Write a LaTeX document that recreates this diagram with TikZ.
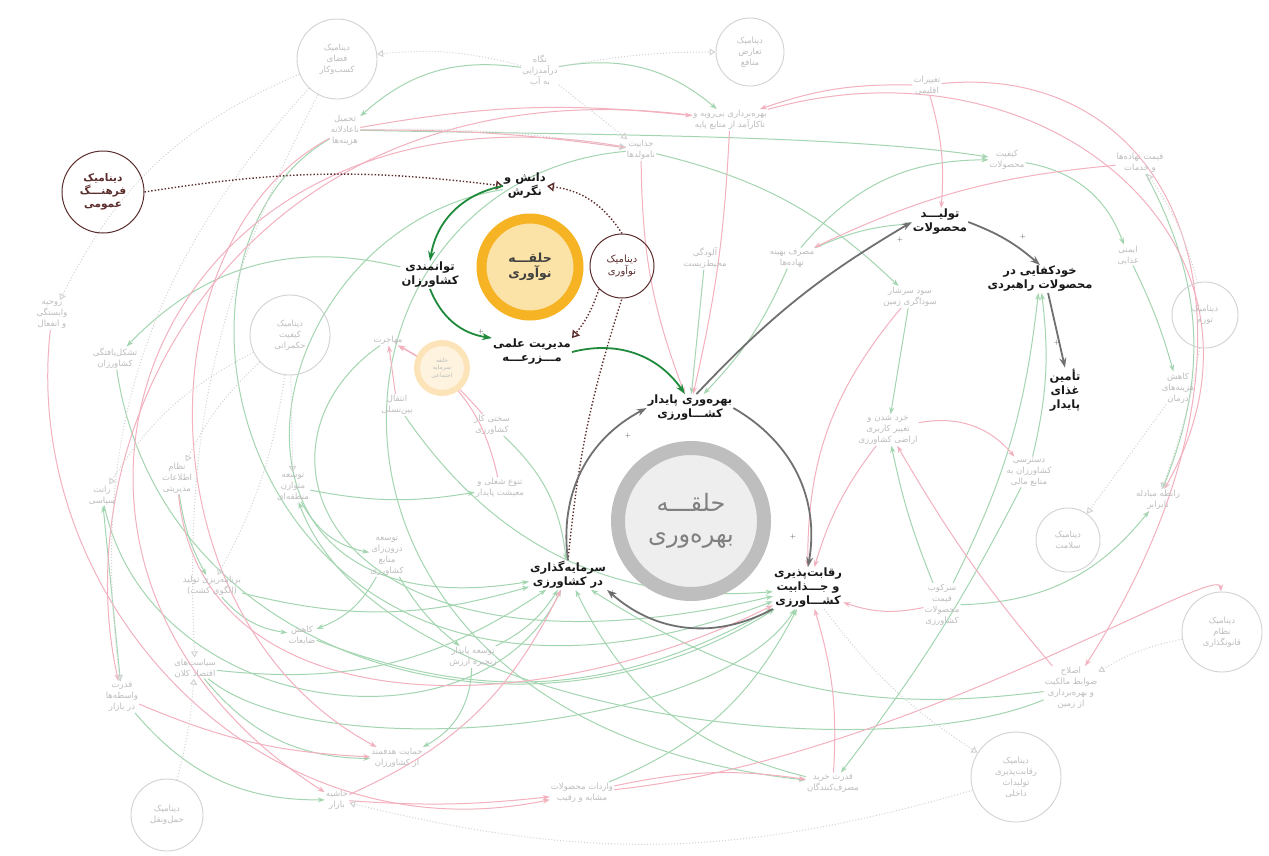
\documentclass[tikz,border=0pt]{standalone}
\usepackage{fontspec}
\usetikzlibrary{arrows.meta,backgrounds}
\newfontfamily\farsi[Script=Arabic]{DejaVu Sans}
\TeXXeTstate=1
\newcommand{\fa}[1]{\beginR#1\endR}

\definecolor{darkgreen}{HTML}{1F8A3B}
\definecolor{arrowgray}{HTML}{707070}
\definecolor{ringorange}{HTML}{F6B324}
\definecolor{ringfill}{HTML}{FBE2A6}
\definecolor{ringgray}{HTML}{BEBEBE}
\definecolor{ringgrayfill}{HTML}{EEEEEE}
\definecolor{maroon}{HTML}{5B2C2C}
\definecolor{fadetext}{HTML}{BDBDBD}
\definecolor{fadeline}{HTML}{D2D2D2}
\definecolor{fadegreen}{HTML}{A3D6B0}
\definecolor{fadepink}{HTML}{F3B0BE}
\definecolor{fadering}{HTML}{FCE3B8}
\definecolor{faderingfill}{HTML}{FEF3DF}

\tikzset{
  mainlbl/.style={font=\farsi\bfseries\fontsize{11.5}{14}\selectfont, align=center, inner sep=1pt, text=black!90},
  fadelbl/.style={font=\farsi\fontsize{8.5}{11}\selectfont, align=center, inner sep=1pt, text=fadetext},
  dyncirc/.style={circle, draw=maroon, line width=1pt, align=center, inner sep=0pt, text=maroon},
  fadecirc/.style={circle, draw=fadeline, line width=.9pt, fadelbl, inner sep=0pt},
  grnarrow/.style={draw=darkgreen, line width=1.8pt, -{Stealth[length=10pt,width=7pt]}},
  gryarrow/.style={draw=arrowgray, line width=1.8pt, -{Stealth[length=10pt,width=7pt]}},
  dynlink/.style={draw=maroon, dotted, line width=1.4pt, -{Triangle[open,length=7pt,width=9pt]}},
  dynplain/.style={draw=maroon, dotted, line width=1.4pt},
  fg/.style={draw=fadegreen, line width=1pt, -{Stealth[length=7pt,width=5pt]}},
  fp/.style={draw=fadepink, line width=1pt, -{Stealth[length=7pt,width=5pt]}},
  fd/.style={draw=fadeline, dotted, line width=1pt, -{Triangle[open,length=6pt,width=7pt]}},
  sgn/.style={font=\fontsize{7}{7}\selectfont, text=black!70, inner sep=0pt}
}

\begin{document}
\begin{tikzpicture}[x=1pt,y=-1pt]
  \useasboundingbox (0,0) rectangle (1269,855);

  \node[dyncirc, minimum size=82pt, font=\farsi\bfseries\fontsize{10.5}{13}\selectfont] (cult) at (103,192) {\fa{دینامیک}\\\fa{فرهنـــگ}\\\fa{عمومی}};
  \node[mainlbl] (know) at (525,186) {\fa{دانش و}\\\fa{نگرش}};
  \node[circle, draw=ringorange, line width=10pt, fill=ringfill, minimum size=97pt, align=center,
        font=\farsi\bfseries\fontsize{12.5}{15}\selectfont, text=black!75] (innovring) at (530,267) {\fa{حلقـــه}\\\fa{نوآوری}};
  \node[dyncirc, minimum size=64pt, font=\farsi\fontsize{10}{12.5}\selectfont] (dyninn) at (622,266) {\fa{دینامیک}\\\fa{نوآوری}};
  \node[mainlbl] (empow) at (430,275) {\fa{توانمندی}\\\fa{کشاورزان}};
  \node[mainlbl] (mgmt) at (532,352) {\fa{مدیریت علمی}\\\fa{مـــزرعـــه}};
  \node[mainlbl] (prod) at (690,408) {\fa{بهره‌وری پایدار}\\\fa{کشـــاورزی}};
  \node[circle, draw=ringgray, line width=14pt, fill=ringgrayfill, minimum size=146pt, align=center,
        font=\farsi\fontsize{24}{31}\selectfont, text=black!50] (prodring) at (691,521) {\fa{حلقـــه}\\\fa{بهره‌وری}};
  \node[mainlbl] (invest) at (568,575) {\fa{سرمایه‌گذاری}\\\fa{در کشاورزی}};
  \node[mainlbl] (compet) at (808,588) {\fa{رقابت‌پذیری}\\\fa{و جـــذابیت}\\\fa{کشـــاورزی}};
  \node[mainlbl] (output) at (940,222) {\fa{تولیـــد}\\\fa{محصولات}};
  \node[mainlbl] (selfs) at (1040,279) {\fa{خودکفایی در}\\\fa{محصولات راهبردی}};
  \node[mainlbl] (food) at (1065,390) {\fa{تأمین}\\\fa{غذای}\\\fa{پایدار}};

  \node[fadecirc, minimum size=80pt] (bizdyn) at (337,59) {\fa{دینامیک}\\\fa{فضای}\\\fa{کسب‌وکار}};
  \node[fadelbl] (waterview) at (540,70) {\fa{نگاه}\\\fa{درآمدزایی}\\\fa{به آب}};
  \node[fadecirc, minimum size=68pt] (conflictdyn) at (750,52) {\fa{دینامیک}\\\fa{تعارض}\\\fa{منافع}};
  \node[fadelbl] (climate) at (927,85) {\fa{تغییرات}\\\fa{اقلیمی}};
  \node[fadelbl] (unfaircost) at (345,130) {\fa{تحمیل}\\\fa{ناعادلانه}\\\fa{هزینه‌ها}};
  \node[fadelbl] (overuse) at (730,120) {\fa{بهره‌برداری بی‌رویه و}\\\fa{ناکارآمد از منابع پایه}};
  \node[fadelbl] (unproductive) at (641,150) {\fa{جذابیت}\\\fa{نامولدها}};
  \node[fadelbl] (quality) at (1007,160) {\fa{کیفیت}\\\fa{محصولات}};
  \node[fadelbl] (inputprice) at (1140,163) {\fa{قیمت نهاده‌ها}\\\fa{و خدمات}};
  \node[fadelbl] (pollution) at (705,258) {\fa{آلودگی}\\\fa{محیط‌زیست}};
  \node[fadelbl] (optimuse) at (792,258) {\fa{مصرف بهینه}\\\fa{نهاده‌ها}};
  \node[fadelbl] (speculation) at (910,297) {\fa{سود سرشار}\\\fa{سوداگری زمین}};
  \node[fadelbl] (foodsafety) at (1128,255) {\fa{ایمنی}\\\fa{غذایی}};
  \node[fadecirc, minimum size=66pt] (inflationdyn) at (1205,315) {\fa{دینامیک}\\\fa{تورم}};
  \node[fadelbl] (healthcost) at (1178,388) {\fa{کاهش}\\\fa{هزینه‌های}\\\fa{درمان}};
  \node[fadelbl] (unfairtrade) at (1158,500) {\fa{رابطه مبادله}\\\fa{نابرابر}};
  \node[fadecirc, minimum size=64pt] (healthdyn) at (1068,540) {\fa{دینامیک}\\\fa{سلامت}};
  \node[fadecirc, minimum size=80pt] (lawdyn) at (1222,632) {\fa{دینامیک}\\\fa{نظام}\\\fa{قانونگذاری}};
  \node[fadelbl] (finance) at (1029,472) {\fa{دسترسی}\\\fa{کشاورزان به}\\\fa{منابع مالی}};
  \node[fadelbl] (landfrag) at (888,430) {\fa{خرد شدن و}\\\fa{تغییر کاربری}\\\fa{اراضی کشاورزی}};
  \node[fadelbl] (pricesupp) at (942,605) {\fa{سرکوب}\\\fa{قیمت}\\\fa{محصولات}\\\fa{کشاورزی}};
  \node[fadelbl] (landreform) at (1071,688) {\fa{اصلاح}\\\fa{ضوابط مالکیت}\\\fa{و بهره‌برداری}\\\fa{از زمین}};
  \node[fadecirc, minimum size=90pt] (competdyn) at (1016,777) {\fa{دینامیک}\\\fa{رقابت‌پذیری}\\\fa{تولیدات}\\\fa{داخلی}};
  \node[fadelbl] (purchase) at (833,783) {\fa{قدرت خرید}\\\fa{مصرف‌کنندگان}};
  \node[fadelbl] (imports) at (582,793) {\fa{واردات محصولات}\\\fa{مشابه و رقیب}};
  \node[fadelbl] (margin) at (337,800) {\fa{حاشیه}\\\fa{بازار}};
  \node[fadecirc, minimum size=72pt] (transportdyn) at (167,815) {\fa{دینامیک}\\\fa{حمل‌ونقل}};
  \node[fadelbl] (targetsupp) at (397,758) {\fa{حمایت هدفمند}\\\fa{از کشاورزان}};
  \node[fadelbl] (brokers) at (122,697) {\fa{قدرت}\\\fa{واسطه‌ها}\\\fa{در بازار}};
  \node[fadelbl] (macro) at (195,668) {\fa{سیاست‌های}\\\fa{اقتصاد کلان}};
  \node[fadelbl] (waste) at (302,635) {\fa{کاهش}\\\fa{ضایعات}};
  \node[fadelbl] (valuechain) at (473,657) {\fa{توسعه پایدار}\\\fa{زنجیره ارزش}};
  \node[fadelbl] (cropplan) at (212,586) {\fa{برنامه‌ریزی تولید}\\\fa{(الگوی کشت)}};
  \node[fadelbl] (endogenous) at (387,556) {\fa{توسعه}\\\fa{درون‌زای}\\\fa{منابع}\\\fa{کشاورزی}};
  \node[fadelbl] (rent) at (102,495) {\fa{رانت}\\\fa{سیاسی}};
  \node[fadelbl] (mis) at (177,478) {\fa{نظام}\\\fa{اطلاعات}\\\fa{مدیریتی}};
  \node[fadelbl] (regional) at (293,487) {\fa{توسعه}\\\fa{متوازن}\\\fa{منطقه‌ای}};
  \node[fadelbl] (jobdiv) at (500,488) {\fa{تنوع شغلی و}\\\fa{معیشت پایدار}};
  \node[fadelbl] (organized) at (115,358) {\fa{تشکل‌یافتگی}\\\fa{کشاورزان}};
  \node[fadelbl] (dependency) at (52,315) {\fa{روحیه}\\\fa{وابستگی}\\\fa{و انفعال}};
  \node[fadecirc, minimum size=80pt] (govdyn) at (290,335) {\fa{دینامیک}\\\fa{کیفیت}\\\fa{حکمرانی}};
  \node[fadelbl] (migration) at (388,340) {\fa{مهاجرت}};
  \node[fadelbl] (transfer) at (397,405) {\fa{انتقال}\\\fa{بین‌نسلی}};
  \node[fadelbl] (hardwork) at (492,425) {\fa{سختی کار}\\\fa{کشاورزی}};
  \node[circle, draw=fadering, line width=6pt, fill=faderingfill, minimum size=50pt, align=center, inner sep=0pt,
        font=\farsi\fontsize{6}{7.5}\selectfont, text=fadetext] (socring) at (442,368) {\fa{حلقه}\\\fa{سرمایه}\\\fa{اجتماعی}};

  \begin{scope}[on background layer]
    \fill[white] (0,0) rectangle (1269,855);
    \draw[fg] (waterview) to[bend right=25] (unfaircost);
    \draw[fg] (waterview) to[bend left=25] (overuse);
    \draw[fg] (quality) to[bend left=30] (foodsafety);
    \draw[fg] (foodsafety) to[bend left=5] (healthcost);
    \draw[fg] (inputprice) to[bend left=25] (unfairtrade);
    \draw[fg] (optimuse) to[bend left=25] (quality);
    \draw[fg] (optimuse) to[bend left=10] (output);
    \draw[fg] (speculation) to (landfrag);
    \draw[fg] (pricesupp) to[bend right=25] (unfairtrade);
    \draw[fg] (pricesupp) to[bend left=5] (landfrag);
    \draw[fg] (pricesupp) to[bend right=10] (selfs);
    \draw[fg] (finance) to[bend left=5] (purchase);
    \draw[fg] (landreform) to[bend left=20] (invest);
    \draw[fg] (regional) to[bend right=25] (endogenous);
    \draw[fg] (regional) to[bend right=10] (jobdiv);
    \draw[fg] (mis) to[bend right=10] (cropplan);
    \draw[fg] (cropplan) to[bend right=20] (waste);
    \draw[fg] (endogenous) to[bend left=20] (waste);
    \draw[fg] (endogenous) to[bend right=10] (valuechain);
    \draw[fg] (valuechain) to[bend left=30] (targetsupp);
    \draw[fg] (macro) to[bend right=25] (targetsupp);
    \draw[fg] (brokers) to[bend right=25] (margin);
    \draw[fg] (brokers) to (rent);
    \draw[fg] (empow) to[bend right=30] (organized);
    \draw[fg] (pollution) to (prod);
    \draw[fg] (optimuse) to[bend left=10] (prod);
    \draw[fg] (cropplan) to[bend right=15] (invest);
    \draw[fg] (macro) to[bend right=20] (invest);
    \draw[fg] (valuechain) to[bend right=15] (invest);
    \draw[fg] (imports) to[bend right=20] (compet);
    \draw[fg] (unproductive) to[bend left=15] (speculation);
    \draw[fg] (hardwork) to[bend left=20] (invest);
    \draw[fg] (unfaircost) .. controls (120,260) and (250,800) .. (compet);
    \draw[fg] (know) .. controls (250,230) and (180,640) .. (invest);
    \draw[fg] (unproductive) .. controls (300,180) and (260,720) .. (purchase);
    \draw[fg] (transfer) to[bend right=30] (compet);
    \draw[fg] (organized) .. controls (160,660) and (520,770) .. (compet);
    \draw[fg] (rent) .. controls (150,720) and (480,760) .. (invest);
    \draw[fg] (macro) .. controls (320,770) and (720,730) .. (compet);
    \draw[fg] (waste) to[bend right=25] (compet);
    \draw[fg] (unfaircost) .. controls (600,135) and (850,135) .. (quality);
    \draw[fg] (landreform) .. controls (880,770) and (380,720) .. (regional);
    \draw[fg] (purchase) to[bend left=25] (invest);
    \draw[fg] (migration) .. controls (230,450) and (330,700) .. (compet);
    \draw[fg] (finance) to[bend right=10] (selfs);

    \draw[fp] (climate) to[bend left=10] (output);
    \draw[fp] (climate) to[bend right=10] (overuse);
    \draw[fp] (unfaircost) to[bend left=8] (overuse);
    \draw[fp] (unfaircost) to[bend left=4] (unproductive);
    \draw[fp] (unproductive) to[bend right=10] (prod);
    \draw[fp] (overuse) to[bend left=5] (prod);
    \draw[fp] (landfrag) to[bend right=10] (compet);
    \draw[fp] (speculation) to[bend right=20] (compet);
    \draw[fp] (purchase) to[bend right=10] (compet);
    \draw[fp] (pricesupp) to[bend left=15] (compet);
    \draw[fp] (margin) to[bend right=20] (invest);
    \draw[fp] (margin) to[bend right=5] (imports);
    \draw[fp] (brokers) to[bend right=10] (targetsupp);
    \draw[fp] (hardwork) to[bend right=10] (migration);
    \draw[fp] (transfer) to (migration);
    \draw[fp] (landfrag) to[bend left=30] (finance);
    \draw[fp] (landreform) to[bend left=5] (landfrag);
    \draw[fp] (inputprice) to[bend right=10] (optimuse);
    \draw[fp] (overuse) .. controls (1050,30) and (1300,250) .. (unfairtrade);
    \draw[fp] (unproductive) .. controls (150,60) and (-40,560) .. (margin);
    \draw[fp] (overuse) .. controls (250,60) and (60,420) .. (brokers);
    \draw[fp] (unfaircost) .. controls (140,240) and (140,620) .. (targetsupp);
    \draw[fp] (imports) .. controls (900,760) and (1220,560) .. (lawdyn);
    \draw[fp] (climate) .. controls (1180,60) and (1300,330) .. (landreform);
    \draw[fp] (mis) .. controls (200,720) and (520,730) .. (compet);
    \draw[fp] (jobdiv) to[bend right=25] (migration);
    \draw[fp] (imports) to[bend left=10] (purchase);
    \draw[fp] (dependency) .. controls (20,600) and (260,860) .. (imports);

    \draw[fd] (waterview) to[bend right=10] (bizdyn);
    \draw[fd] (waterview) to[bend left=5] (conflictdyn);
    \draw[fd] (waterview) to (unproductive);
    \draw[fd] (bizdyn) to[bend right=15] (macro);
    \draw[fd] (bizdyn) to[bend right=20] (dependency);
    \draw[fd] (bizdyn) to[bend right=25] (brokers);
    \draw[fd] (govdyn) to[bend right=10] (mis);
    \draw[fd] (govdyn) to (regional);
    \draw[fd] (govdyn) to[bend right=15] (rent);
    \draw[fd] (govdyn) to[bend left=10] (cropplan);
    \draw[fd] (transportdyn) to[bend right=5] (macro);
    \draw[fd] (competdyn) to[bend left=15] (margin);
    \draw[fd] (compet) to[bend right=10] (competdyn);
    \draw[fd] (healthcost) to (healthdyn);
    \draw[fd] (inflationdyn) to[bend right=10] (inputprice);
    \draw[fd] (inflationdyn) to[bend left=5] (unfairtrade);
    \draw[fd] (lawdyn) to[bend right=10] (landreform);
    \draw[fd] (unfaircost) to[bend left=5] (unproductive);
  \end{scope}

  \draw[dynlink] (cult.east) to[bend left=8] (know.west);
  \draw[dynlink] (dyninn.north) to[bend right=25] (know.east);
  \draw[dynlink] (dyninn.south west) to[bend left=10] (mgmt.north east);
  \draw[dynplain] (invest.north) to[bend left=6] (dyninn.south);

  \draw[grnarrow] (know.west) to[bend right=35] (empow.north);
  \draw[grnarrow] (empow.south) to[bend right=30] (mgmt.north west);
  \draw[grnarrow] (mgmt.east) to[bend left=35] (prod.110);

  \draw[gryarrow] (prod.east) to[bend left=35] (compet.north);
  \draw[gryarrow] (compet.south west) to[bend left=35] (invest.south east);
  \draw[gryarrow] (invest.north) to[bend left=35] (prod.west);
  \draw[gryarrow] (prod.65) to[bend left=8] (output.west);
  \draw[gryarrow] (output.east) to[bend left=10] (selfs.north);
  \draw[gryarrow] (selfs.-60) to (food.north);

  \foreach \n/\x/\y in {a/481/332, b/628/436, c/613/593, d/793/537, e/1023/237, f/1057/343, g/900/240}
    \node[sgn] (sign\n) at (\x,\y) {+};
\end{tikzpicture}
\end{document}
